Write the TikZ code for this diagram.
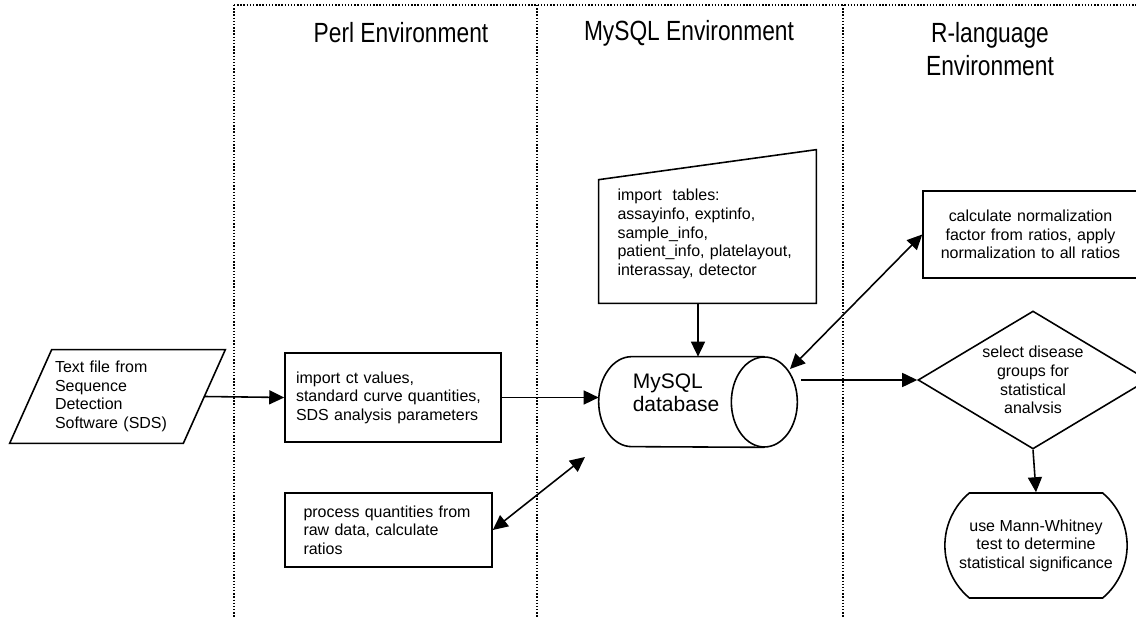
\documentclass[tikz,border=0pt]{standalone}
\usepackage{fontspec}
\setmainfont{Liberation Sans}
\newfontfamily\narrowfont[FakeStretch=0.82]{Liberation Sans}
\usetikzlibrary{shapes.geometric,shapes.misc,arrows.meta}
\tikzset{
  box/.style={draw, line width=0.9pt, inner sep=0pt},
  head/.style={font=\narrowfont\fontsize{15.8pt}{18.8pt}\selectfont, align=center},
  arr/.style={line width=0.9pt, -{Triangle[length=0.3cm,width=0.28cm]}},
  dbl/.style={line width=0.9pt, {Triangle[length=0.3cm,width=0.28cm]}-{Triangle[length=0.3cm,width=0.28cm]}},
  lane/.style={densely dotted, line width=0.8pt}
}
\begin{document}
\begin{tikzpicture}[x=0.02cm, y=-0.02cm, every node/.style={font=\fontsize{9.1pt}{10.6pt}\selectfont}]
\useasboundingbox (0,0) rectangle (1136,617);
\draw[lane] (234,5) -- (1136,5);
\draw[lane] (234,5) -- (234,617);
\draw[lane] (537,5) -- (537,617);
\draw[lane] (843,5) -- (843,617);
\node[head] (hperl) at (401,33) {Perl Environment};
\node[head] (hsql) at (689,33) {MySQL Environment};
\node[head] (hr) at (990,49) {R-language\\Environment};
\node[minimum width=4.3cm, minimum height=1.86cm, inner sep=0pt, text width=2.5cm, align=left] (sds) at (117.5,396.5) {Text file from\\Sequence\\Detection\\Software (SDS)};
\draw[line width=0.9pt] (sds.south west) -- ([xshift=0.84cm]sds.north west) -- (sds.north east) -- ([xshift=-0.84cm]sds.south east) -- cycle;
\node[box, minimum width=4.32cm, minimum height=1.78cm, text width=3.88cm, align=left] (imp) at (393,397.5) {import ct values,\\standard curve quantities,\\SDS analysis parameters};
\node[box, minimum width=4.14cm, minimum height=1.48cm, text width=3.4cm, align=left] (proc) at (388.5,530) {process quantities from\\raw data, calculate\\ratios};
\node[minimum width=4.34cm, minimum height=2.76cm, inner sep=0pt, text width=3.6cm, align=left] (tbl) at (707.5,234) {import\ \ tables:\\assayinfo, exptinfo,\\sample\_info,\\patient\_info, platelayout,\\interassay, detector};
\draw[line width=0.9pt] (tbl.south west) -- ([yshift=-0.3cm]tbl.north west) -- ([yshift=0.3cm]tbl.north east) -- (tbl.south east) -- cycle;
\node[minimum width=2.64cm, minimum height=1.8cm, inner sep=0pt] (db) at (698,402) {};
\draw[line width=0.9pt] (db.north east) -- (db.north west) arc[start angle=90, end angle=270, x radius=0.66cm, y radius=0.9cm] -- (db.south east);
\draw[line width=0.9pt] (db.east) ellipse[x radius=0.66cm, y radius=0.9cm];
\node[font=\fontsize{11.95pt}{13.3pt}\selectfont, align=left] (dbtxt) at (676,393) {MySQL\\database};
\node[box, minimum width=4.3cm, minimum height=1.74cm, text width=3.8cm, align=center] (norm) at (1030.5,234.5) {calculate normalization\\factor from ratios, apply\\normalization to all ratios};
\node[draw, diamond, line width=0.9pt, inner sep=0pt, aspect=1.67, minimum width=4.6cm, minimum height=2.76cm, align=center] (grp) at (1033,380) {select disease\\groups for\\statistical\\analvsis};
\node[draw, rounded rectangle, rounded rectangle arc length=100, line width=0.9pt, minimum width=3.88cm, minimum height=2.1cm, align=center] (mw) at (1036,545.5) {use Mann-Whitney\\test to determine\\statistical significance};
\coordinate (dbin) at ([xshift=-0.66cm]db.west);
\coordinate (dbout) at (801,380);
\coordinate (dbtop) at (790,369);
\coordinate (dblow) at (585,457);
\draw[arr] ([xshift=-0.42cm]sds.east) -- (imp.west);
\draw[arr] (imp.east) -- (imp.east -| dbin);
\draw[arr] (tbl.south -| db.north) -- (db.north);
\draw[arr] (dbout) -- (grp.west);
\draw[arr] (grp.south) -- (mw.north);
\draw[dbl] (norm.west) -- (dbtop);
\draw[dbl] (proc.east) -- (dblow);
\end{tikzpicture}
\end{document}
